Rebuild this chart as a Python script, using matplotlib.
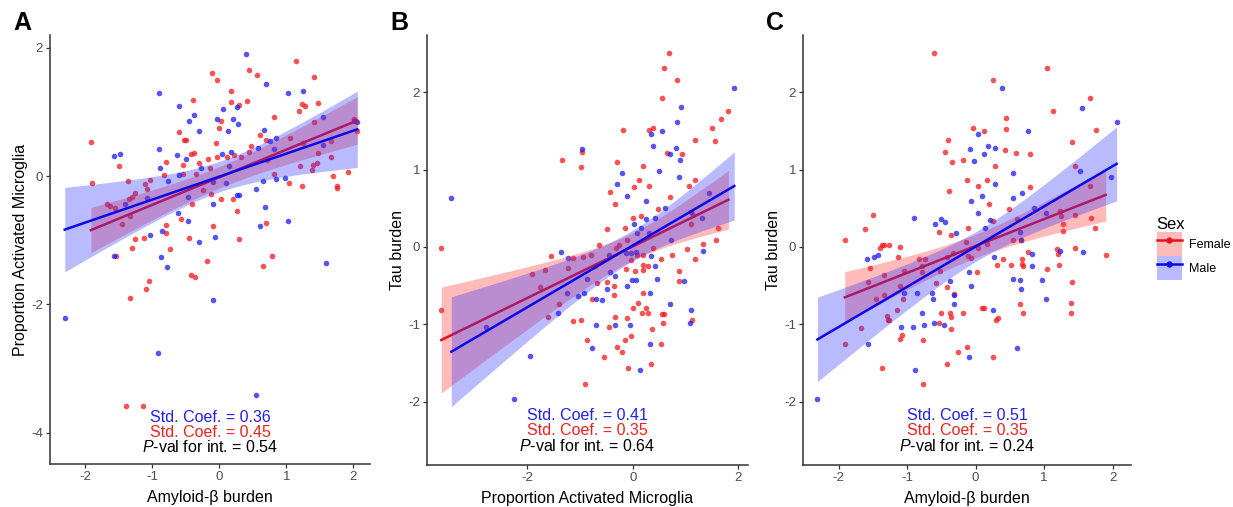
import numpy as np
import matplotlib
matplotlib.use('Agg')
import matplotlib.pyplot as plt
from matplotlib.patches import Patch
from matplotlib.lines import Line2D

plt.rcParams['font.family'] = ['Liberation Sans', 'DejaVu Sans']
plt.rcParams['mathtext.fontset'] = 'custom'
plt.rcParams['mathtext.rm'] = 'Liberation Sans'
plt.rcParams['mathtext.it'] = 'Liberation Sans:italic'
plt.rcParams['axes.unicode_minus'] = False

# Panel A: Amyloid-beta burden vs proportion activated microglia
a_male_x = [0.40, -0.90, 0.69, 1.03, 1.25, -0.60, 0.05, 0.27, -0.38, -0.45, -0.03, 0.21, 0.28,
            -0.30, 0.13, 0.67, 1.55, 2.06, -0.90, -1.57, -1.49, -0.63, 0.04, 0.17, -0.50, 0.57,
            0.76, 0.85, 0.82, 1.55, 0.14, -0.89, -0.27, -0.76, -0.60, -0.09, 0.10, 0.65, 0.84,
            0.98, 0.55, 0.27, 0.30, -0.47, -1.08, -1.41, -0.10, 0.68, -0.62, -0.47, 1.03, 0.61,
            -0.86, -1.03, -0.07, -0.30, -1.57, -0.87, -0.78, 1.59, -0.09, -2.31, -0.92, 0.55, 2.01]
a_male_y = [1.91, 1.30, 1.44, 1.30, 1.32, 1.09, 1.05, 1.08, 0.96, 0.86, 0.89, 0.89, 0.81,
            0.70, 0.70, 0.72, 0.92, 0.84, 0.42, 0.32, 0.35, 0.33, 0.35, 0.38, 0.26, 0.44,
            0.55, 0.60, 0.43, 0.48, 0.16, 0.12, 0.12, -0.07, 0.02, -0.10, -0.11, -0.08, -0.04,
            -0.03, -0.20, -0.29, -0.29, -0.33, -0.34, -0.44, -0.44, -0.49, -0.58, -0.70, -0.70, -0.78,
            -0.85, -0.92, -0.95, -1.03, -1.24, -1.26, -1.42, -1.36, -1.94, -2.22, -2.76, -3.41, 0.86]
a_female_x = [1.14, 0.44, -0.11, 0.56, -0.04, 1.41, 0.18, -0.40, 0.17, 0.30, 0.41, 1.23, 1.28,
              1.47, 1.19, 0.81, 0.02, 1.42, 2.01, 0.00, -0.60, 0.61, 2.06, -0.53, -0.50, 0.70,
              1.06, -0.05, -1.92, 0.47, 1.25, 1.67, -0.42, -0.38, 0.44, 1.48, -0.04, 0.12, 0.22,
              0.32, 0.71, 1.67, 1.46, -1.50, -0.79, -0.55, -0.31, -0.17, -0.14, 1.21, 1.40, 1.39,
              1.92, -1.91, -1.36, -1.04, -0.83, -0.54, -0.35, 1.69, 0.81, 1.04, 1.23, 1.75, 1.76,
              -1.11, -1.08, -0.13, 0.03, 0.21, -0.24, -1.26, -1.31, -1.35, -1.68, -1.63, -1.56,
              -0.41, -1.33, -1.46, 0.27, -0.58, -0.80, -0.79, -0.10, 0.69, -1.26, -1.13, -0.45,
              0.29, -1.30, -0.74, -1.55, -0.19, 0.78, 0.65, -0.43, -0.37, -1.05, -1.10, -1.34,
              -1.39, -1.14]
a_female_y = [1.80, 1.66, 1.61, 1.57, 1.50, 1.54, 1.32, 1.19, 1.16, 1.11, 1.17, 1.13, 1.09,
              1.14, 1.01, 0.92, 0.86, 0.85, 0.89, 0.75, 0.68, 0.64, 0.70, 0.56, 0.56, 0.56,
              0.60, 0.52, 0.53, 0.47, 0.51, 0.54, 0.35, 0.36, 0.38, 0.36, 0.30, 0.30, 0.33,
              0.29, 0.25, 0.29, 0.21, 0.16, 0.22, 0.18, 0.20, 0.27, 0.12, 0.15, 0.17, 0.09,
              0.06, -0.11, -0.07, -0.06, 0.01, 0.04, 0.03, 0.00, 0.03, -0.11, -0.15, -0.15, -0.19,
              -0.12, -0.20, -0.28, -0.36, -0.36, -0.22, -0.27, -0.33, -0.36, -0.44, -0.47, -0.50,
              -0.43, -0.62, -0.75, -0.54, -0.67, -0.76, -0.88, -0.78, -0.73, -0.98, -0.96, -0.96,
              -0.98, -1.12, -1.14, -1.24, -1.32, -1.25, -1.40, -1.54, -1.58, -1.64, -1.76, -1.90,
              -3.59, -3.59]

# Panel B: proportion activated microglia vs tau burden
b_male_x = [1.92, 0.92, 0.84, 0.55, 0.35, 0.39, 0.82, 0.70, 0.89, -0.96, 0.49, -0.20, 0.87,
            -0.29, -0.11, -3.43, 0.26, 0.61, 1.45, 1.11, 0.26, 0.43, 1.31, 0.03, 0.16, 0.09,
            0.31, 0.72, -1.36, -1.23, -0.45, -0.04, 0.06, 0.35, 1.32, 0.43, -0.43, -0.33, 0.45,
            -0.86, -0.11, -0.01, -0.49, 0.97, -1.25, -1.04, -0.92, -0.70, -0.58, 0.33, 0.70, 1.11,
            -1.42, -2.78, -0.69, -0.33, -0.06, 1.09, -0.77, 0.33, -1.95, 0.13, -2.24, -0.13, 0.06]
b_male_y = [2.05, 1.81, 1.61, 1.50, 1.46, 1.31, 1.28, 1.20, 1.12, 1.27, 0.98, 0.95, 0.90,
            0.81, 0.66, 0.63, 0.60, 0.50, 0.70, 0.45, 0.36, 0.38, 0.38, 0.29, 0.24, 0.18,
            0.18, 0.09, -0.07, -0.14, -0.11, -0.08, -0.07, -0.12, -0.05, -0.25, -0.33, -0.38, -0.41,
            -0.41, -0.50, -0.43, -0.54, -0.44, -0.60, -0.63, -0.60, -0.67, -0.69, -0.60, -0.74, -0.81,
            -0.86, -1.04, -1.01, -1.01, -1.01, -0.99, -1.31, -1.25, -1.41, -1.59, -1.97, -0.08, -0.43]
b_female_x = [0.68, 0.59, 0.83, 0.55, 1.81, 1.67, 1.50, 0.39, 0.30, -0.19, 1.56, 1.18, -0.96,
              0.65, 0.93, -1.33, -0.29, -0.98, 0.20, 1.18, 0.11, 1.06, 0.30, 0.03, -0.43, -0.34,
              0.70, 0.48, 0.00, 0.16, 1.14, 1.32, -0.49, -0.15, 1.11, 1.62, 1.58, -0.11, -0.25,
              -0.63, -3.62, -0.31, 0.38, 0.75, 1.02, 1.18, -1.55, -1.12, -0.94, -0.78, 0.08, 0.20,
              0.53, -0.04, 0.20, 0.28, 0.20, 0.05, -0.13, -1.23, -0.72, -1.65, -1.90, 0.87, 0.87,
              -0.67, -0.36, -1.76, -0.49, 0.20, -0.36, -0.77, 0.10, -1.40, 0.01, 0.26, 0.18, 0.28,
              0.55, 0.59, -1.61, -1.12, -0.97, -0.34, -0.10, 0.58, 1.12, -0.44, 0.36, -3.62, -0.04,
              -0.87, -0.15, -0.29, -0.20, 0.53, -0.54, -0.08, 0.34, -0.91]
b_female_y = [2.51, 2.31, 2.16, 1.92, 1.76, 1.66, 1.54, 1.54, 1.51, 1.51, 1.37, 1.38, 1.23,
              1.22, 1.20, 1.13, 1.10, 1.03, 1.04, 0.87, 0.86, 0.79, 0.79, 0.77, 0.71, 0.55,
              0.65, 0.49, 0.38, 0.40, 0.41, 0.04, 0.23, 0.24, 0.30, 0.25, 0.09, 0.09, 0.03,
              0.03, -0.01, -0.02, -0.02, -0.11, -0.03, -0.15, -0.12, -0.14, -0.13, -0.11, -0.10, -0.11,
              -0.15, -0.17, -0.23, -0.25, -0.30, -0.31, -0.28, -0.27, -0.25, -0.30, -0.35, -0.31, -0.44,
              -0.47, -0.51, -0.52, -0.45, -0.60, -0.62, -0.67, -0.72, -0.74, -0.79, -0.79, -0.86, -0.85,
              -0.87, -0.87, -0.90, -0.96, -0.95, -0.90, -0.92, -0.98, -0.95, -1.04, -1.06, -0.81, -1.15,
              -1.20, -1.20, -1.30, -1.36, -1.25, -1.42, -1.57, -1.52, -1.77]

# Panel C: Amyloid-beta burden vs tau burden
c_male_x = [0.38, 1.55, 2.06, 0.76, 0.04, 0.18, 0.28, -0.08, 0.12, -0.03, 1.53, 0.54, 1.98,
            0.29, 0.09, 0.68, 0.54, -0.07, 0.85, 0.04, 1.03, -0.90, -0.50, -0.44, -0.59, 0.21,
            -0.28, 0.14, 0.65, 0.66, -1.58, -1.49, -1.42, 0.27, 0.82, 1.24, 1.57, 0.82, -0.10,
            0.55, 0.65, 0.97, -0.38, -0.07, 0.67, -1.04, -0.86, -0.63, -0.31, -0.62, 1.03, -0.31,
            0.26, -0.78, -0.61, -0.46, -0.76, -1.09, -0.92, -1.57, 0.60, -0.09, -0.88, -2.31]
c_male_y = [2.05, 1.80, 1.61, 1.50, 1.46, 1.31, 1.28, 1.26, 1.20, 1.11, 0.98, 0.95, 0.90,
            0.81, 0.66, 0.70, 0.63, 0.60, 0.50, 0.44, 0.44, 0.38, 0.36, 0.32, 0.29, 0.35,
            0.18, 0.24, 0.19, 0.09, -0.15, -0.13, -0.11, -0.13, -0.09, -0.05, -0.07, -0.25, -0.33,
            -0.41, -0.43, -0.43, -0.44, -0.50, -0.54, -0.60, -0.60, -0.60, -0.62, -0.68, -0.68, -0.74,
            -0.81, -0.86, -0.99, -1.01, -1.01, -1.03, -1.04, -1.25, -1.31, -1.42, -1.59, -1.97]
c_female_x = [-0.60, 1.05, 0.26, 1.67, 1.13, 0.44, -0.04, 0.44, 0.12, 1.76, -0.40, 1.41, -0.45,
              0.43, 0.59, 0.79, -0.19, -0.35, 0.29, 1.45, -0.13, 0.17, 0.04, 0.80, 1.67, -0.39,
              0.20, 0.49, -1.50, 1.23, 1.25, 1.45, 1.68, 1.28, 0.61, 0.26, -1.62, -0.11, -0.54,
              -0.36, 1.28, 1.75, -1.90, -0.14, -1.36, -1.33, -1.27, -1.40, -1.10, 0.04, 0.17, 0.55,
              0.66, 0.77, 1.19, 1.45, 1.90, 1.20, -1.13, -0.82, -0.74, -0.33, -0.42, -0.11, -0.06,
              0.40, 0.68, 0.68, 0.69, 0.31, 0.52, 1.22, -0.78, -1.54, -0.78, -1.05, -0.52, 0.02,
              1.04, -1.34, -1.57, -0.58, 1.41, -1.10, -0.42, -1.34, -1.45, -1.06, -0.31, 0.65, 1.39,
              -1.14, -1.29, -1.28, -1.26, -0.50, -0.37, -0.19, -0.36, 0.10, 0.12, 0.70, 1.40, 0.33,
              0.30, -0.53, -1.67, -0.36, -1.07, -1.10, -0.77, -1.91, -0.12, -0.25, 0.26, -0.41,
              -1.36, -0.77]
c_female_y = [2.51, 2.31, 2.16, 1.92, 1.76, 1.67, 1.54, 1.53, 1.50, 1.51, 1.38, 1.36, 1.23,
              1.25, 1.22, 1.20, 1.13, 1.10, 1.04, 1.04, 0.86, 0.87, 0.79, 0.77, 0.79, 0.72,
              0.55, 0.49, 0.41, 0.47, 0.40, 0.41, 0.38, 0.30, 0.36, 0.33, 0.23, 0.24, 0.19,
              0.16, 0.21, 0.24, 0.09, 0.06, 0.02, 0.03, 0.02, -0.02, 0.00, -0.02, 0.04, 0.09,
              0.09, -0.06, -0.03, -0.02, -0.10, -0.09, -0.13, -0.15, -0.16, -0.08, -0.13, -0.12, -0.14,
              -0.15, -0.16, -0.22, -0.25, -0.24, -0.23, -0.24, -0.25, -0.27, -0.33, -0.31, -0.31, -0.32,
              -0.29, -0.36, -0.45, -0.47, -0.45, -0.51, -0.52, -0.62, -0.67, -0.68, -0.61, -0.74, -0.72,
              -0.81, -0.89, -0.95, -0.95, -0.86, -0.86, -0.85, -0.91, -0.79, -0.79, -0.86, -0.86, -0.92,
              -0.95, -0.98, -1.05, -1.06, -1.14, -1.19, -1.20, -1.25, -1.30, -1.36, -1.42, -1.52,
              -1.57, -1.77]

panels = [
    dict(letter='A', male=(a_male_x, a_male_y), female=(a_female_x, a_female_y),
         xlabel='Amyloid-β burden', ylabel='Proportion Activated Microglia',
         xlim=(-2.53, 2.25), ylim=(-4.49, 2.2), xticks=[-2, -1, 0, 1, 2], yticks=[-4, -2, 0, 2],
         coefs=('0.36', '0.45', '0.54'), ty=(0.108, 0.074, 0.040),
         rect=[50, 35, 370, 464]),
    dict(letter='B', male=(b_male_x, b_male_y), female=(b_female_x, b_female_y),
         xlabel='Proportion Activated Microglia', ylabel='Tau burden',
         xlim=(-3.89, 2.18), ylim=(-2.82, 2.74), xticks=[-2, 0, 2], yticks=[-2, -1, 0, 1, 2],
         coefs=('0.41', '0.35', '0.64'), ty=(0.116, 0.081, 0.045),
         rect=[427, 35, 748, 465]),
    dict(letter='C', male=(c_male_x, c_male_y), female=(c_female_x, c_female_y),
         xlabel='Amyloid-β burden', ylabel='Tau burden',
         xlim=(-2.52, 2.27), ylim=(-2.82, 2.74), xticks=[-2, -1, 0, 1, 2], yticks=[-2, -1, 0, 1, 2],
         coefs=('0.51', '0.35', '0.24'), ty=(0.116, 0.081, 0.045),
         rect=[803, 35, 1131, 465]),
]

red = '#F8171B'
blue = '#1C1CF0'
W, H = 1233, 507


def lm_band(x, y, n_grid=80):
    # ordinary least squares line with 95% confidence band, like geom_smooth(method='lm')
    x = np.asarray(x)
    y = np.asarray(y)
    n = len(x)
    b1, b0 = np.polyfit(x, y, 1)
    resid = y - (b0 + b1 * x)
    s = np.sqrt(np.sum(resid ** 2) / (n - 2))
    sxx = np.sum((x - x.mean()) ** 2)
    xs = np.linspace(x.min(), x.max(), n_grid)
    fit = b0 + b1 * xs
    se = s * np.sqrt(1.0 / n + (xs - x.mean()) ** 2 / sxx)
    t = 1.98
    return xs, fit, fit - t * se, fit + t * se


fig = plt.figure(figsize=(W / 100, H / 100), dpi=100)

for p in panels:
    l, t_, r, b = p['rect']
    ax = fig.add_axes([l / W, 1 - b / H, (r - l) / W, (b - t_) / H])

    ax.scatter(p['female'][0], p['female'][1], s=16, color=red, alpha=0.75, linewidths=0, zorder=2)
    ax.scatter(p['male'][0], p['male'][1], s=16, color=blue, alpha=0.75, linewidths=0, zorder=2)

    xs, fit, lo, hi = lm_band(*p['female'])
    ax.fill_between(xs, lo, hi, color='#FF3030', alpha=0.33, linewidth=0, zorder=3)
    ax.plot(xs, fit, color='#E8101C', lw=1.8, zorder=4)
    xs, fit, lo, hi = lm_band(*p['male'])
    ax.fill_between(xs, lo, hi, color='#3030FF', alpha=0.33, linewidth=0, zorder=5)
    ax.plot(xs, fit, color='#0A0AE8', lw=1.8, zorder=6)

    ax.set_xlim(p['xlim'])
    ax.set_ylim(p['ylim'])
    ax.set_xticks(p['xticks'])
    ax.set_yticks(p['yticks'])
    ax.set_xlabel(p['xlabel'], fontsize=11.5, labelpad=5)
    ax.set_ylabel(p['ylabel'], fontsize=11.5, labelpad=2.5)
    for side in ['top', 'right']:
        ax.spines[side].set_visible(False)
    for side in ['left', 'bottom']:
        ax.spines[side].set_linewidth(1.1)
        ax.spines[side].set_color('#333333')
    ax.tick_params(direction='out', length=3, width=0.9, color='#333333',
                   labelsize=9.5, labelcolor='#4D4D4D', pad=2)

    c_m, c_f, pv = p['coefs']
    ax.text(0.5, p['ty'][0], f'Std. Coef. = {c_m}', transform=ax.transAxes, ha='center',
            va='center', fontsize=11.5, color='#2020EE', zorder=7)
    ax.text(0.5, p['ty'][1], f'Std. Coef. = {c_f}', transform=ax.transAxes, ha='center',
            va='center', fontsize=11.5, color='#EE2020', zorder=7)
    ax.text(0.5, p['ty'][2], r'$\mathit{P}$-val for int. = ' + pv, transform=ax.transAxes,
            ha='center', va='center', fontsize=11.5, color='black', zorder=7)

    fig.text((l - 37) / W, 1 - 23 / H, p['letter'], fontsize=18, fontweight='bold',
             ha='left', va='center')

# legend
handles = [
    (Patch(facecolor='#FF3030', alpha=0.33, edgecolor='none'),
     Line2D([], [], color='#E8101C', lw=1.8, marker='o', markersize=3.5)),
    (Patch(facecolor='#3030FF', alpha=0.33, edgecolor='none'),
     Line2D([], [], color='#0A0AE8', lw=1.8, marker='o', markersize=3.5)),
]
leg = fig.legend(handles, ['Female', 'Male'], title='Sex', loc='upper left',
                 bbox_to_anchor=(1148 / W, 1 - 208 / H), frameon=False, fontsize=9,
                 title_fontsize=12, handlelength=2.0, handleheight=2.6, labelspacing=0,
                 handletextpad=0.6, borderpad=0.2)
leg._legend_box.align = 'left'

fig.savefig('out.png', dpi=100)
